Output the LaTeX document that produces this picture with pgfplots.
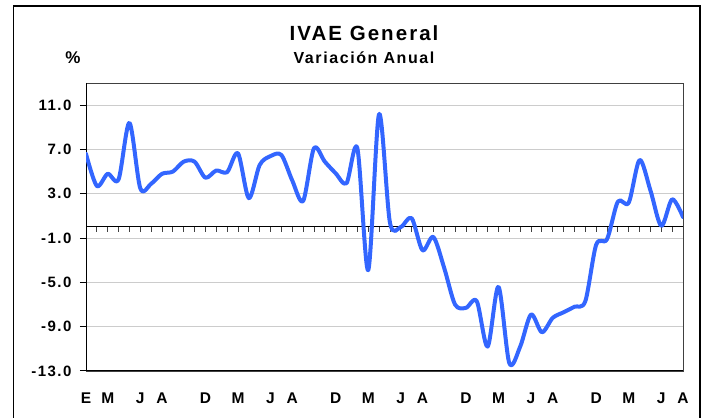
\documentclass[border=0pt]{standalone}
\usepackage{fontspec}
\setmainfont{Liberation Sans}[LetterSpace=10]
\usepackage{pgfplots}
\pgfplotsset{compat=1.18}
\definecolor{ivae}{RGB}{51,102,255}
\pgfplotstableread{
i v
0 6.6
1 3.7
2 4.8
3 4.3
4 9.4
5 3.5
6 3.9
7 4.8
8 5.0
9 5.9
10 5.9
11 4.45
12 5.1
13 4.95
14 6.65
15 2.6
16 5.6
17 6.4
18 6.5
19 4.2
20 2.35
21 7.1
22 5.9
23 4.85
24 3.95
25 7.1
26 -3.9
27 10.2
28 0.4
29 0.0
30 0.8
31 -2.1
32 -0.9
33 -3.7
34 -7.0
35 -7.3
36 -6.7
37 -10.8
38 -5.4
39 -12.3
40 -10.8
41 -7.9
42 -9.5
43 -8.2
44 -7.7
45 -7.2
46 -6.7
47 -1.6
48 -1.1
49 2.3
50 2.2
51 6.05
52 3.3
53 0.1
54 2.5
55 0.9
}\ivaedata
\begin{document}
\begin{tikzpicture}[x=1pt,y=1pt]
\path[use as bounding box] (0,0) rectangle (703,417);
\draw[line width=1.3pt] (13.5,-5) -- (13.5,411) -- (700,411) -- (700,-5);
\node[font=\bfseries\fontsize{20.5}{24}\selectfont, anchor=base, inner sep=0pt] at (364,376.3) {IVAE General};
\node[font=\bfseries\fontsize{16}{19}\selectfont, anchor=base, inner sep=0pt] at (364,353.7) {Variación Anual};
\node[font=\bfseries\fontsize{17}{20}\selectfont, anchor=base, inner sep=0pt] at (73,353) {\%};
\begin{axis}[
  at={(86pt,46pt)}, anchor=south west,
  scale only axis, width=597pt, height=288pt,
  xmin=0, xmax=55, ymin=-13, ymax=13,
  ytick={-13,-9,-5,-1,3,7,11},
  yticklabels={-13.0,-9.0,-5.0,-1.0,3.0,7.0,11.0},
  xtick={0,2,5,7,11,14,17,19,23,26,29,31,35,38,41,43,47,50,53,55},
  xticklabels={E,M,J,A,D,M,J,A,D,M,J,A,D,M,J,A,D,M,J,A},
  ymajorgrids,
  grid style={draw=black!20, line width=0.9pt},
  axis line style={draw=black!75, line width=0.7pt},
  tick label style={font=\bfseries\fontsize{15}{18}\selectfont},
  xticklabel style={font=\bfseries\fontsize{15.5}{18}\selectfont},
  ytick pos=left,
  tick align=outside,
  major tick length=6pt,
  ytick style={draw=black, line width=1pt},
  xtick style={draw=none},
  yticklabel style={xshift=-5pt},
  xticklabel style={anchor=base, yshift=-26pt},
]
\draw[black, line width=2pt] (rel axis cs:0,1) -- (rel axis cs:0,0) -- (rel axis cs:1,0);
\draw[black, line width=1pt] (axis cs:0,0) -- (axis cs:55,0);
\pgfplotsinvokeforeach{1,...,55}{\draw[black!75, line width=0.8pt] (axis cs:#1,0) -- ++(0pt,-5pt);}
\addplot[ivae, line width=4pt, smooth, tension=0.5, line cap=round, line join=round] table[x=i, y=v] {\ivaedata};
\end{axis}
\end{tikzpicture}
\end{document}
